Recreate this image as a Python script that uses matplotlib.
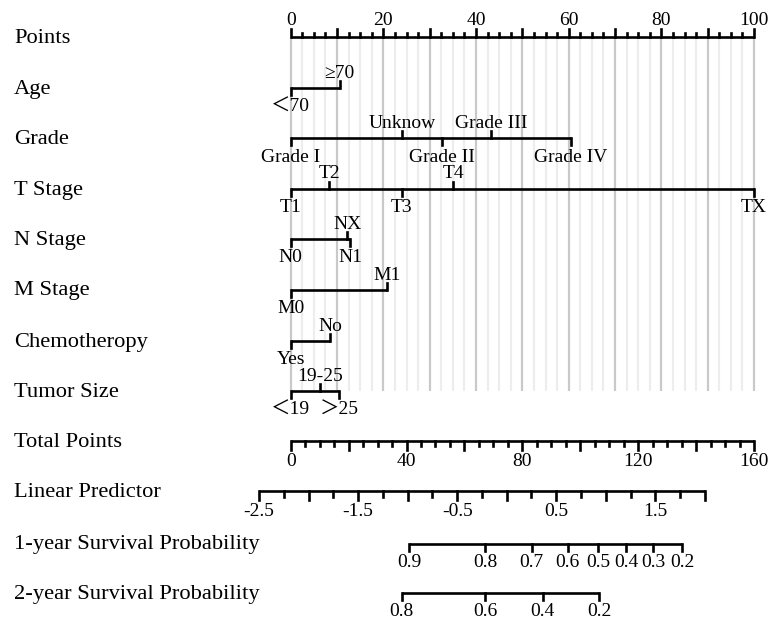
import matplotlib
matplotlib.use('Agg')
import matplotlib.pyplot as plt
import numpy as np

plt.rcParams['font.family'] = ['Liberation Serif', 'Noto Sans CJK SC', 'DejaVu Sans']

# ---------------- data ----------------
row_names = ['Points', 'Age', 'Grade', 'T Stage', 'N Stage', 'M Stage',
             'Chemotheropy', 'Tumor Size', 'Total Points', 'Linear Predictor',
             '1-year Survival Probability', '2-year Survival Probability']

age_levels = ['＜70', '≥70']
age_points = [0, 10.6]
age_side = ['below', 'above']

grade_levels = ['Grade I', 'Unknow', 'Grade II', 'Grade III', 'Grade IV']
grade_points = [0, 24.1, 32.7, 43.2, 60.4]
grade_side = ['below', 'above', 'below', 'above', 'below']

t_levels = ['T1', 'T2', 'T3', 'T4', 'TX']
t_points = [0, 8.3, 24.0, 35.1, 100]
t_side = ['below', 'above', 'below', 'above', 'below']

n_levels = ['N0', 'NX', 'N1']
n_points = [0, 12.2, 12.9]
n_side = ['below', 'above', 'below']

m_levels = ['M0', 'M1']
m_points = [0, 20.7]
m_side = ['below', 'above']

chemo_levels = ['Yes', 'No']
chemo_points = [0, 8.5]
chemo_side = ['below', 'above']

size_levels = ['＜19', '19-25', '＞25']
size_points = [0, 6.3, 10.5]
size_side = ['below', 'above', 'below']

total_points_max = 160
lp_range = [-2.5, 2.0]
lp_labels = [-2.5, -1.5, -0.5, 0.5, 1.5]
lp_at_zero_total = -2.18      # linear predictor at 0 total points
total_per_lp = 34.22          # total points per unit of linear predictor

surv1_labels = [0.9, 0.8, 0.7, 0.6, 0.5, 0.4, 0.3, 0.2]
surv1_lp = [-0.983, -0.219, 0.252, 0.615, 0.924, 1.203, 1.479, 1.772]

surv2_labels = [0.8, 0.6, 0.4, 0.2]
surv2_lp = [-1.060, -0.219, 0.363, 0.931]

# ---------------- layout ----------------
PX0 = 290.7       # pixel x of 0 points
PX_PER_PT = 4.633
ROW_Y = [37, 88, 138, 188.5, 239, 289.5, 341, 391, 441, 491, 543.5, 592.5]
LW = 1.9
FS_ROW = 16.2
FS_LAB = 14
BELOW_OFF = 10.5

fig = plt.figure(figsize=(7.68, 6.24), dpi=100)
ax = fig.add_axes([0, 0, 1, 1])
ax.set_xlim(-PX0 / PX_PER_PT, (768 - PX0) / PX_PER_PT)
ax.set_ylim(624, 0)
ax.axis('off')


def lp_to_pts(lp):
    return (np.asarray(lp, dtype=float) - lp_at_zero_total) * total_per_lp * 100.0 / total_points_max


# grid lines
grid_x = np.arange(0, 100.01, 2.5)
for g in grid_x:
    major = abs(g / 10 - round(g / 10)) < 1e-9
    ax.plot([g, g], [ROW_Y[0], ROW_Y[7]], color='#c9c9c9' if major else '#ededed',
            lw=1.6, zorder=0, solid_capstyle='butt')

# row labels
for name, y in zip(row_names, ROW_Y):
    ax.text(14 / 768, y + 1.5, name, transform=ax.get_yaxis_transform(),
            ha='left', va='center', fontsize=FS_ROW)

# Points axis (ticks up, labels above)
y = ROW_Y[0]
ax.plot([0, 100], [y, y], color='black', lw=LW, solid_capstyle='butt', zorder=3)
minor = np.arange(0, 100.01, 2.5)
for v in minor:
    is_major = abs(v / 10 - round(v / 10)) < 1e-9
    ax.plot([v, v], [y, y - (8 if is_major else 4.5)], color='black', lw=LW, zorder=3)
for v in np.arange(0, 100.01, 20):
    ax.text(v, y - 12, f'{int(v)}', ha='center', va='baseline', fontsize=FS_LAB)

# categorical rows
cats = [(age_levels, age_points, age_side),
        (grade_levels, grade_points, grade_side),
        (t_levels, t_points, t_side),
        (n_levels, n_points, n_side),
        (m_levels, m_points, m_side),
        (chemo_levels, chemo_points, chemo_side),
        (size_levels, size_points, size_side)]
for (levels, pts, sides), y in zip(cats, ROW_Y[1:8]):
    ax.plot([min(pts), max(pts)], [y, y], color='black', lw=LW,
            solid_capstyle='butt', zorder=3)
    for lab, p, s in zip(levels, pts, sides):
        if s == 'above':
            ax.plot([p, p], [y, y - 7], color='black', lw=LW, zorder=3)
            ax.text(p, y - 10, lab, ha='center', va='baseline', fontsize=FS_LAB)
        else:
            ax.plot([p, p], [y, y + 7], color='black', lw=LW, zorder=3)
            ax.text(p, y + BELOW_OFF, lab, ha='center', va='top', fontsize=FS_LAB)

# Total points axis
y = ROW_Y[8]
scale = 100.0 / total_points_max
ax.plot([0, 100], [y, y], color='black', lw=LW, solid_capstyle='butt', zorder=3)
for v in np.arange(0, total_points_max + 0.01, 5):
    is_major = v % 20 == 0
    ax.plot([v * scale] * 2, [y, y + (9 if is_major else 4.5)], color='black', lw=LW)
for v in np.arange(0, total_points_max + 0.01, 40):
    ax.text(v * scale, y + BELOW_OFF + 1, f'{int(v)}', ha='center', va='top', fontsize=FS_LAB)

# Linear predictor axis
y = ROW_Y[9]
x0, x1 = lp_to_pts(lp_range)
ax.plot([x0, x1], [y, y], color='black', lw=LW, solid_capstyle='butt', zorder=3)
for v in np.arange(lp_range[0], lp_range[1] + 0.001, 0.25):
    is_major = abs(v * 2 - round(v * 2)) < 1e-9
    ax.plot([lp_to_pts(v)] * 2, [y, y + (9 if is_major else 5.5)], color='black', lw=LW)
for v in lp_labels:
    ax.text(lp_to_pts(v), y + BELOW_OFF + 1, f'{v:g}', ha='center', va='top', fontsize=FS_LAB)

# survival axes
for labels, lps, y in [(surv1_labels, surv1_lp, ROW_Y[10]),
                       (surv2_labels, surv2_lp, ROW_Y[11])]:
    xs = lp_to_pts(lps)
    ax.plot([xs.min(), xs.max()], [y, y], color='black', lw=LW,
            solid_capstyle='butt', zorder=3)
    for lab, xv in zip(labels, xs):
        ax.plot([xv, xv], [y, y + 7], color='black', lw=LW)
        ax.text(xv, y + BELOW_OFF, f'{lab:g}', ha='center', va='top', fontsize=FS_LAB)

fig.savefig('out.png', dpi=100, facecolor='white')
